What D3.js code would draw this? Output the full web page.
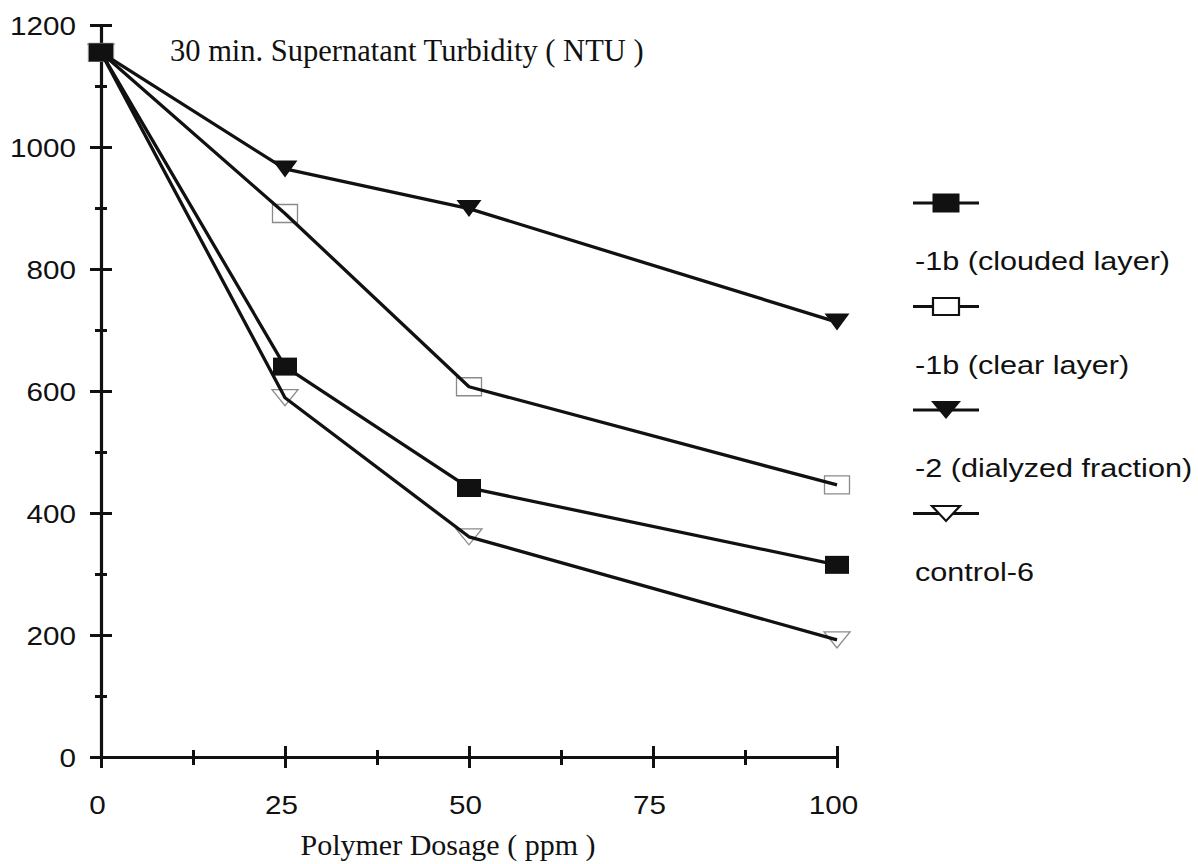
<!DOCTYPE html>
<html>
<head>
<meta charset="utf-8">
<script src="https://cdn.jsdelivr.net/npm/d3@7"></script>
<style>
  html, body { margin: 0; padding: 0; background: #fff; }
  svg { display: block; }
  .sans { font-family: "Liberation Sans", Arial, sans-serif; fill: #111; }
  .serif { font-family: "Liberation Serif", "Times New Roman", serif; fill: #111; }
</style>
</head>
<body>
<svg id="chart" width="1198" height="864"></svg>
<script>
// Polymer dosage (ppm) on the x axis
const dosage = [0, 25, 50, 100];

// 30 min supernatant turbidity (NTU) for each polymer
const clouded = [1155, 640, 441, 315];   // -1b (clouded layer)
const clear   = [1155, 891, 607, 446];   // -1b (clear layer)
const dialyzed = [1155, 964, 899, 713];  // -2 (dialyzed fraction)
const control = [1155, 589, 361, 192];   // control-6

const seriesNames = ["-1b (clouded layer)", "-1b (clear layer)", "-2 (dialyzed fraction)", "control-6"];
const seriesValues = [clouded, clear, dialyzed, control];
const seriesMarkers = ["squareFilled", "squareOpen", "triFilled", "triOpen"];

const xTicks = [0, 12.5, 25, 37.5, 50, 62.5, 75, 87.5, 100];
const xTickLabels = ["0", "", "25", "", "50", "", "75", "", "100"];
const yTicks = [0, 100, 200, 300, 400, 500, 600, 700, 800, 900, 1000, 1100, 1200];
const yTickLabels = ["0", "", "200", "", "400", "", "600", "", "800", "", "1000", "", "1200"];

const titleText = "30 min. Supernatant Turbidity ( NTU )";
const xTitle = "Polymer Dosage ( ppm )";

const svg = d3.select("#chart");

const x = d3.scaleLinear().domain([0, 100]).range([101, 837]);
const y = d3.scaleLinear().domain([0, 1200]).range([757, 25]);

const INK = "#111";
const GREY = "#8a8a8a";

// ---- axes ----
const yAxis = d3.axisLeft(y)
  .tickValues(yTicks)
  .tickFormat((d, i) => yTickLabels[i])
  .tickSizeOuter(0);

const gy = svg.append("g").attr("transform", `translate(${x(0)},0)`).call(yAxis);
gy.select(".domain").attr("stroke", INK).attr("stroke-width", 3.2);
gy.selectAll(".tick line")
  .attr("stroke", INK).attr("stroke-width", 3)
  .attr("x1", d => d % 200 === 0 ? 11 : 6)
  .attr("x2", d => d % 200 === 0 ? -11 : -6);
gy.selectAll(".tick text")
  .attr("class", "sans")
  .attr("x", 0)
  .attr("dy", "0.36em")
  .attr("transform", "translate(-25,0) scale(1.14,1)")
  .style("font-size", "26px");

const xAxis = d3.axisBottom(x)
  .tickValues(xTicks)
  .tickFormat((d, i) => xTickLabels[i])
  .tickSizeOuter(0);

const gx = svg.append("g").attr("transform", `translate(0,${y(0)})`).call(xAxis);
gx.select(".domain").attr("stroke", INK).attr("stroke-width", 3.2);
gx.selectAll(".tick line")
  .attr("stroke", INK).attr("stroke-width", 3)
  .attr("y1", d => d % 25 === 0 ? -11 : -7)
  .attr("y2", d => d % 25 === 0 ? 11 : 8);
gx.selectAll(".tick text")
  .attr("class", "sans")
  .attr("y", 0)
  .attr("dy", "0.36em")
  .attr("transform", "translate(-4,48) scale(1.14,1)")
  .style("font-size", "26px");
svg.selectAll(".tick text").attr("fill", INK);

// ---- titles ----
svg.append("text")
  .attr("class", "serif")
  .attr("x", 170).attr("y", 61)
  .style("font-size", "30.5px")
  .text(titleText);

svg.append("text")
  .attr("class", "serif")
  .attr("x", 448).attr("y", 855)
  .attr("text-anchor", "middle")
  .style("font-size", "30px")
  .text(xTitle);

// ---- marker shapes ----
function rectPath(w, h) {
  return `M${-w / 2},${-h / 2}h${w}v${h}h${-w}Z`;
}
function triPath(w, h) {
  return `M${-w / 2},${-h / 2}L${w / 2},${-h / 2}L0,${h / 2}Z`;
}
const chartMarker = {
  squareFilled: { d: rectPath(24, 18), fill: INK, stroke: "none", sw: 0 },
  squareOpen:   { d: rectPath(25, 18), fill: "none", stroke: GREY, sw: 1.3 },
  triFilled:    { d: triPath(25, 17), fill: INK, stroke: "none", sw: 0 },
  triOpen:      { d: triPath(26, 16), fill: "none", stroke: GREY, sw: 1.3 }
};
const legendMarker = {
  squareFilled: { d: rectPath(27, 19), fill: INK, stroke: "none", sw: 0 },
  squareOpen:   { d: rectPath(26, 17), fill: "#fff", stroke: INK, sw: 2.2 },
  triFilled:    { d: triPath(30, 18), fill: INK, stroke: "none", sw: 0 },
  triOpen:      { d: triPath(28, 15), fill: "#fff", stroke: INK, sw: 2.2 }
};

// ---- series ----
const line = d3.line().x((d, i) => x(dosage[i])).y(d => y(d));

const plot = svg.append("g");

// open markers sit under the lines, filled ones on top
seriesValues.forEach((vals, s) => {
  const m = chartMarker[seriesMarkers[s]];
  if (m.fill === "none") {
    plot.append("g").selectAll("path").data(vals).join("path")
      .attr("d", m.d)
      .attr("transform", (d, i) => `translate(${x(dosage[i])},${y(d)})`)
      .attr("fill", m.fill).attr("stroke", m.stroke).attr("stroke-width", m.sw);
  }
});

seriesValues.forEach(vals => {
  plot.append("path")
    .datum(vals)
    .attr("d", line)
    .attr("fill", "none")
    .attr("stroke", INK)
    .attr("stroke-width", 3.3)
    .attr("stroke-linejoin", "round");
});

// draw control first so the -1b clouded square at 0 ends up on top
[3, 2, 1, 0].forEach(s => {
  const m = chartMarker[seriesMarkers[s]];
  if (m.fill !== "none") {
    plot.append("g").selectAll("path").data(seriesValues[s]).join("path")
      .attr("d", m.d)
      .attr("transform", (d, i) => `translate(${x(dosage[i])},${y(d)})`)
      .attr("fill", m.fill);
  }
});

// ---- legend ----
const legend = svg.append("g").attr("transform", "translate(913,203)");
const item = legend.selectAll("g").data(seriesNames).join("g")
  .attr("transform", (d, i) => `translate(0,${i * 103.5})`);

item.append("line")
  .attr("x1", 0).attr("x2", 66).attr("y1", 0).attr("y2", 0)
  .attr("stroke", INK).attr("stroke-width", 3);

item.append("path")
  .attr("d", (d, i) => legendMarker[seriesMarkers[i]].d)
  .attr("transform", "translate(33,0)")
  .attr("fill", (d, i) => legendMarker[seriesMarkers[i]].fill)
  .attr("stroke", (d, i) => legendMarker[seriesMarkers[i]].stroke)
  .attr("stroke-width", (d, i) => legendMarker[seriesMarkers[i]].sw);

item.append("text")
  .attr("class", "sans")
  .attr("transform", "translate(2,67) scale(1.2,1)")
  .style("font-size", "25.5px")
  .text(d => d);
</script>
</body>
</html>
